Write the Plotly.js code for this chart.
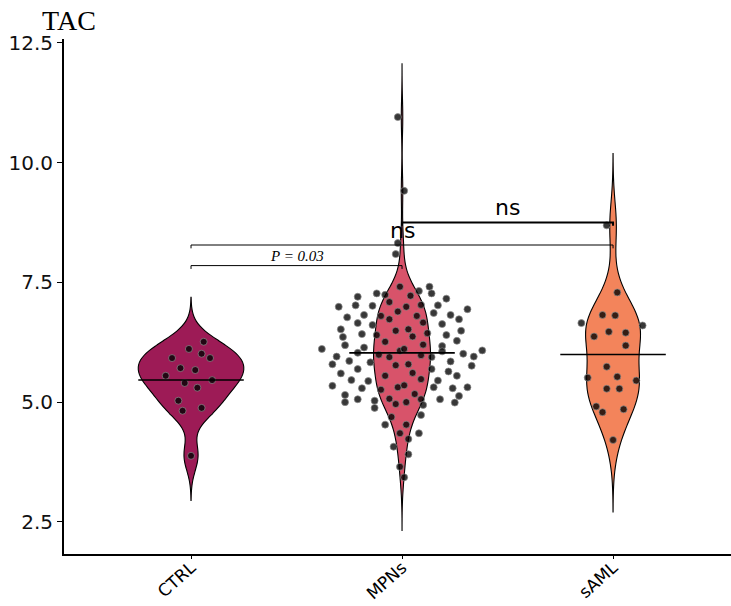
<!DOCTYPE html>
<html>
<head>
<meta charset="utf-8">
<script src="https://cdn.plot.ly/plotly-3.0.1.min.js"></script>
<style>html,body{margin:0;padding:0;background:#fff;}#chart{width:731px;height:606px;}</style>
</head>
<body>
<div id="chart"></div>
<script>
// ---- data ----
const categories = ['CTRL', 'MPNs', 'sAML'];

const ctrlTAC = [6.26, 6.11, 6.01, 5.92, 5.92, 5.71, 5.67, 5.55, 5.46, 5.40, 5.30, 5.03, 4.82, 4.88, 3.88];
const ctrlJitter = [0.06, -0.01, 0.05, 0.09, -0.09, -0.05, 0.02, -0.12, 0.10, -0.03, 0.03, -0.06, -0.04, 0.05, 0.00];

const mpnsTAC = [7.41, 7.41, 7.27, 7.20, 7.24, 7.32, 7.27, 7.22, 7.16, 6.99,
  7.02, 7.01, 7.09, 6.99, 7.03, 7.02, 6.94, 6.89, 6.82, 6.77,
  6.80, 6.80, 6.86, 6.82, 6.73, 6.65, 6.73, 6.66, 6.63, 6.61,
  6.52, 6.49, 6.52, 6.44, 6.49, 6.42, 6.40, 6.40, 6.36, 6.37,
  6.28, 6.26, 6.20, 6.19, 6.14, 6.17, 6.11, 6.07, 6.11, 6.08,
  6.03, 6.06, 5.95, 5.99, 5.94, 5.98, 5.94, 6.01, 5.95, 5.86,
  5.83, 5.77, 5.79, 5.85, 5.79, 5.76, 5.69, 5.61, 5.69, 5.64,
  5.60, 5.55, 5.55, 5.46, 5.48, 5.44, 5.45, 5.34, 5.29, 5.31,
  5.35, 5.31, 5.29, 5.31, 5.26, 5.17, 5.15, 5.13, 5.07, 5.06,
  5.06, 5.03, 5.06, 5.00, 4.96, 5.00, 4.99, 4.94, 4.88, 4.69,
  4.73, 4.53, 4.53, 4.35, 4.35, 4.23, 4.07, 3.91, 3.65, 3.43,
  10.95, 9.41, 8.32, 8.09];
const mpnsJitter = [-0.01, 0.13, -0.12, -0.21, -0.08, 0.08, 0.14, 0.04, 0.21, -0.30,
  -0.22, -0.14, -0.06, 0.02, 0.09, 0.17, 0.31, -0.02, -0.18, -0.26,
  -0.10, 0.07, 0.15, 0.23, 0.27, -0.21, -0.06, 0.10, 0.19, -0.14,
  -0.29, -0.03, 0.03, 0.12, 0.28, -0.19, -0.12, 0.21, -0.28, 0.05,
  0.26, -0.08, 0.10, -0.27, -0.18, 0.19, -0.38, -0.01, 0.01, 0.38,
  -0.21, 0.19, -0.31, -0.11, -0.06, 0.09, 0.14, 0.29, 0.34, -0.25,
  -0.15, -0.03, 0.03, 0.23, -0.33, 0.33, -0.21, 0.05, 0.14, 0.22,
  -0.29, -0.08, 0.26, -0.24, 0.09, -0.16, 0.17, -0.33, -0.19, -0.02,
  0.01, 0.15, 0.24, 0.31, -0.10, 0.06, -0.27, 0.27, -0.06, 0.09,
  -0.21, -0.13, 0.18, -0.27, -0.03, 0.02, 0.25, 0.10, -0.13, -0.05,
  0.09, -0.08, 0.02, -0.01, 0.08, 0.03, -0.04, 0.03, -0.01, 0.01,
  -0.02, 0.01, -0.02, -0.03];

const samlTAC = [8.69, 7.29, 6.82, 6.81, 6.65, 6.60, 6.47, 6.45, 6.37, 6.18,
  5.74, 5.53, 5.51, 5.45, 5.28, 5.28, 4.91, 4.79, 4.85, 4.21];
const samlJitter = [-0.03, 0.02, -0.05, 0.01, -0.15, 0.14, -0.02, 0.06, -0.09, 0.06,
  -0.03, 0.02, -0.12, 0.11, -0.03, 0.03, -0.08, -0.05, 0.05, 0.00];

// comparisons (group pairs and labels)
const compPairs = [[1, 2], [1, 3], [2, 3]];
const compLabels = ['P = 0.03', 'ns', 'ns'];

// ---- styling ----
const groupValues = [ctrlTAC, mpnsTAC, samlTAC];
const groupJitter = [ctrlJitter, mpnsJitter, samlJitter];
const fills = ['#9d1b56', '#d8536a', '#f3845b'];
const bandwidths = [0.31, 0.37, 0.5];
const violinWidths = [0.50, 0.27, 0.26];
const compLevels = [7.85, 8.28, 8.75];
const compWidths = [1, 1, 2];

const traces = [];
groupValues.forEach((vals, i) => {
  const lo = Math.min(...vals), hi = Math.max(...vals);
  const bw = bandwidths[i];
  traces.push({
    type: 'violin', y: vals, x0: i + 1, name: categories[i],
    orientation: 'v', width: violinWidths[i], scalemode: 'width', scalegroup: 'g' + i,
    bandwidth: bw, spanmode: 'manual', span: [lo - 3 * bw, hi + 3 * bw],
    points: false, fillcolor: fills[i], line: {color: '#000', width: 1.1},
    box: {visible: false}, meanline: {visible: false},
    hoverinfo: 'skip', showlegend: false
  });
});
groupValues.forEach((vals, i) => {
  traces.push({
    type: 'scatter', mode: 'markers',
    x: groupJitter[i].map(j => i + 1 + j), y: vals,
    marker: {size: 7, color: 'rgba(0,0,0,0.78)', line: {color: 'rgba(140,140,140,0.7)', width: 1}},
    hoverinfo: 'skip', showlegend: false
  });
});
groupValues.forEach((vals, i) => {
  const m = vals.reduce((a, b) => a + b, 0) / vals.length;
  traces.push({
    type: 'scatter', mode: 'lines', x: [i + 1 - 0.25, i + 1 + 0.25], y: [m, m],
    line: {color: '#000', width: 1.6}, hoverinfo: 'skip', showlegend: false
  });
});

const shapes = [];
const annotations = [];
compPairs.forEach((p, k) => {
  const y = compLevels[k], t = 0.07;
  shapes.push({type: 'path', xref: 'x', yref: 'y',
    path: `M ${p[0]} ${y - t} L ${p[0]} ${y} L ${p[1]} ${y} L ${p[1]} ${y - t}`,
    line: {color: '#000', width: compWidths[k]}});
  const italic = compLabels[k].startsWith('P');
  annotations.push({
    xref: 'x', yref: 'y', x: (p[0] + p[1]) / 2, y: y, yanchor: 'bottom', xanchor: 'center',
    text: italic ? '<i>' + compLabels[k] + '</i>' : compLabels[k], showarrow: false,
    font: italic ? {family: 'Liberation Serif', size: 15, color: '#000'} : {family: 'DejaVu Sans', size: 22, color: '#000'}
  });
});

const layout = {
  width: 731, height: 606,
  margin: {l: 64, r: 0, t: 39, b: 52, pad: 0},
  paper_bgcolor: '#fff', plot_bgcolor: '#fff',
  violinmode: 'overlay',
  title: {text: 'TAC', font: {family: 'Liberation Serif', size: 28, color: '#000'},
    xref: 'container', yref: 'container', x: 69 / 731, xanchor: 'center', y: 1 - 20 / 606, yanchor: 'middle'},
  xaxis: {type: 'linear', range: [0.398, 3.559], tickvals: [1, 2, 3], ticktext: categories,
    tickangle: -42, ticks: 'outside', ticklen: 3, tickwidth: 1, tickcolor: '#000',
    ticklabelstandoff: -8,
    showline: true, linecolor: '#000', linewidth: 2, showgrid: false, zeroline: false,
    tickfont: {family: 'DejaVu Sans', size: 17, color: '#000'}},
  yaxis: {range: [1.83, 12.58], tick0: 2.5, dtick: 2.5, tickformat: '.1f',
    ticks: 'outside', ticklen: 5, tickwidth: 1, tickcolor: '#000',
    showline: true, linecolor: '#000', linewidth: 2, showgrid: false, zeroline: false,
    tickfont: {family: 'DejaVu Sans', size: 20, color: '#111'}},
  shapes: shapes, annotations: annotations
};

Plotly.newPlot('chart', traces, layout, {displayModeBar: false, staticPlot: true});
</script>
</body>
</html>
